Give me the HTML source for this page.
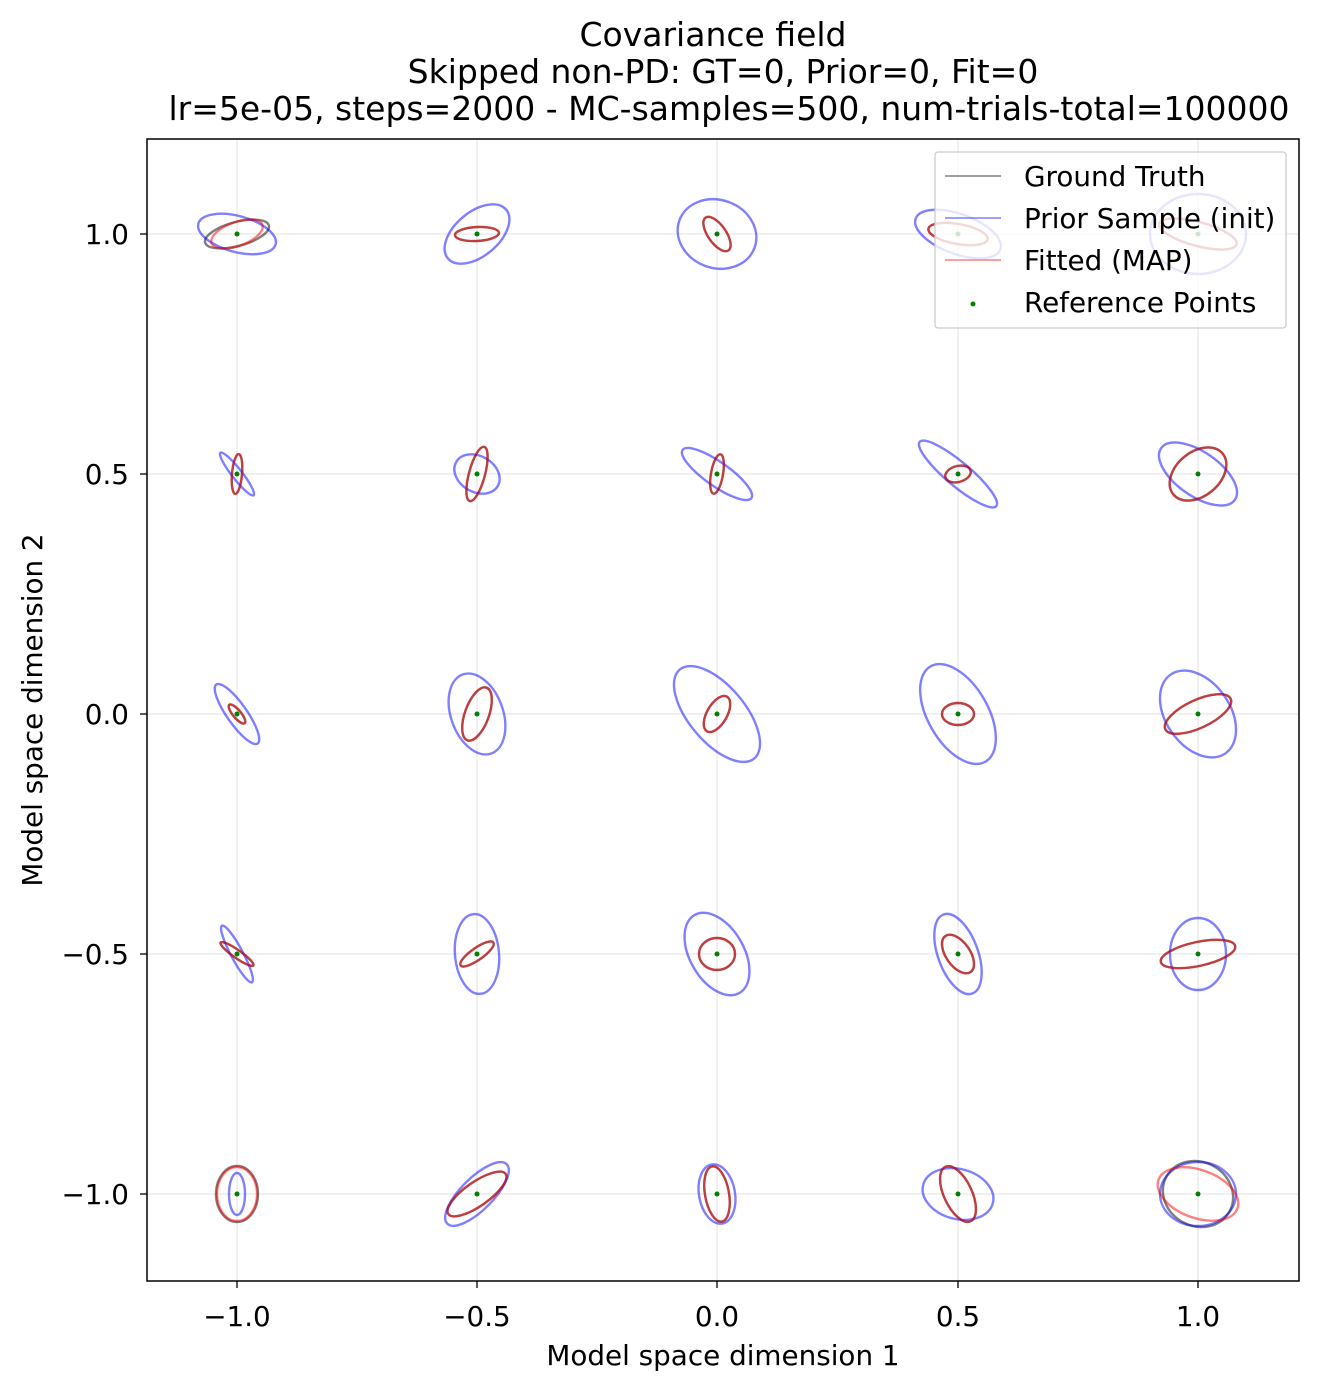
<!DOCTYPE html>
<html><head><meta charset="utf-8"><style>
html,body{margin:0;padding:0;background:#fff}
svg text{font-family:"DejaVu Sans","Liberation Sans",sans-serif;fill:#000}
</style></head><body>
<svg width="1320" height="1390" viewBox="0 0 1320 1390" xmlns="http://www.w3.org/2000/svg">
<rect width="1320" height="1390" fill="#fff"/>
<g font-size="33" text-anchor="middle">
<text x="713" y="46">Covariance field</text>
<text x="723" y="83">Skipped non-PD: GT=0, Prior=0, Fit=0</text>
<text x="729" y="120">lr=5e-05, steps=2000 - MC-samples=500, num-trials-total=100000</text>
</g>
<g stroke="#e6e6e6" stroke-width="1.2">
<line x1="237" y1="139" x2="237" y2="1281"/><line x1="477" y1="139" x2="477" y2="1281"/><line x1="717" y1="139" x2="717" y2="1281"/><line x1="958" y1="139" x2="958" y2="1281"/><line x1="1198" y1="139" x2="1198" y2="1281"/>
<line x1="147" y1="234" x2="1299" y2="234"/><line x1="147" y1="474" x2="1299" y2="474"/><line x1="147" y1="714" x2="1299" y2="714"/><line x1="147" y1="954" x2="1299" y2="954"/><line x1="147" y1="1194" x2="1299" y2="1194"/>
</g>
<g fill="none" stroke-width="2.4">
<g transform="translate(237,234)"><ellipse rx="33" ry="12" transform="rotate(-15)" stroke="#000" stroke-opacity=".5"/><ellipse rx="40" ry="18" transform="rotate(15)" stroke="#00f" stroke-opacity=".5"/><ellipse rx="27" ry="12" transform="rotate(-20)" stroke="#f00" stroke-opacity=".5"/></g>
<g transform="translate(477,234)"><ellipse rx="22" ry="7" transform="rotate(-3)" stroke="#000" stroke-opacity=".5"/><ellipse rx="38" ry="22" transform="rotate(-40)" stroke="#00f" stroke-opacity=".5"/><ellipse rx="22" ry="7" transform="rotate(-3)" stroke="#f00" stroke-opacity=".5"/></g>
<g transform="translate(717,234)"><ellipse rx="20" ry="9" transform="rotate(55)" stroke="#000" stroke-opacity=".5"/><ellipse rx="40" ry="34" transform="rotate(20)" stroke="#00f" stroke-opacity=".5"/><ellipse rx="20" ry="9" transform="rotate(55)" stroke="#f00" stroke-opacity=".5"/></g>
<g transform="translate(958,234)"><ellipse rx="30" ry="10" transform="rotate(10)" stroke="#000" stroke-opacity=".5"/><ellipse rx="45" ry="20" transform="rotate(20)" stroke="#00f" stroke-opacity=".5"/><ellipse rx="30" ry="10" transform="rotate(10)" stroke="#f00" stroke-opacity=".5"/></g>
<g transform="translate(1198,234)"><ellipse rx="40" ry="12" transform="rotate(15)" stroke="#000" stroke-opacity=".5"/><ellipse rx="48" ry="40" stroke="#00f" stroke-opacity=".5"/><ellipse rx="40" ry="12" transform="rotate(15)" stroke="#f00" stroke-opacity=".5"/></g>
<g transform="translate(237,474)"><ellipse rx="20" ry="5" transform="rotate(95)" stroke="#000" stroke-opacity=".5"/><ellipse rx="27" ry="5" transform="rotate(52)" stroke="#00f" stroke-opacity=".5"/><ellipse rx="20" ry="5" transform="rotate(95)" stroke="#f00" stroke-opacity=".5"/></g>
<g transform="translate(477,474)"><ellipse rx="28" ry="8" transform="rotate(-75)" stroke="#000" stroke-opacity=".5"/><ellipse rx="24" ry="18" transform="rotate(30)" stroke="#00f" stroke-opacity=".5"/><ellipse rx="28" ry="8" transform="rotate(-75)" stroke="#f00" stroke-opacity=".5"/></g>
<g transform="translate(717,474)"><ellipse rx="20" ry="6" transform="rotate(-80)" stroke="#000" stroke-opacity=".5"/><ellipse rx="42" ry="12" transform="rotate(35)" stroke="#00f" stroke-opacity=".5"/><ellipse rx="20" ry="6" transform="rotate(-80)" stroke="#f00" stroke-opacity=".5"/></g>
<g transform="translate(958,474)"><ellipse rx="13" ry="8" transform="rotate(-15)" stroke="#000" stroke-opacity=".5"/><ellipse rx="50" ry="12" transform="rotate(40)" stroke="#00f" stroke-opacity=".5"/><ellipse rx="13" ry="8" transform="rotate(-15)" stroke="#f00" stroke-opacity=".5"/></g>
<g transform="translate(1198,474)"><ellipse rx="32" ry="22" transform="rotate(-40)" stroke="#000" stroke-opacity=".5"/><ellipse rx="45" ry="22" transform="rotate(35)" stroke="#00f" stroke-opacity=".5"/><ellipse rx="32" ry="22" transform="rotate(-40)" stroke="#f00" stroke-opacity=".5"/></g>
<g transform="translate(237,714)"><ellipse rx="12" ry="4" transform="rotate(50)" stroke="#000" stroke-opacity=".5"/><ellipse rx="36" ry="10" transform="rotate(55)" stroke="#00f" stroke-opacity=".5"/><ellipse rx="12" ry="4" transform="rotate(50)" stroke="#f00" stroke-opacity=".5"/></g>
<g transform="translate(477,714)"><ellipse rx="28" ry="12" transform="rotate(-70)" stroke="#000" stroke-opacity=".5"/><ellipse rx="42" ry="26" transform="rotate(70)" stroke="#00f" stroke-opacity=".5"/><ellipse rx="28" ry="12" transform="rotate(-70)" stroke="#f00" stroke-opacity=".5"/></g>
<g transform="translate(717,714)"><ellipse rx="20" ry="10" transform="rotate(-60)" stroke="#000" stroke-opacity=".5"/><ellipse rx="58" ry="28" transform="rotate(50)" stroke="#00f" stroke-opacity=".5"/><ellipse rx="20" ry="10" transform="rotate(-60)" stroke="#f00" stroke-opacity=".5"/></g>
<g transform="translate(958,714)"><ellipse rx="16" ry="11" stroke="#000" stroke-opacity=".5"/><ellipse rx="55" ry="30" transform="rotate(60)" stroke="#00f" stroke-opacity=".5"/><ellipse rx="16" ry="11" stroke="#f00" stroke-opacity=".5"/></g>
<g transform="translate(1198,714)"><ellipse rx="36" ry="14" transform="rotate(-25)" stroke="#000" stroke-opacity=".5"/><ellipse rx="48" ry="32" transform="rotate(55)" stroke="#00f" stroke-opacity=".5"/><ellipse rx="36" ry="14" transform="rotate(-25)" stroke="#f00" stroke-opacity=".5"/></g>
<g transform="translate(237,954)"><ellipse rx="20" ry="4" transform="rotate(35)" stroke="#000" stroke-opacity=".5"/><ellipse rx="32" ry="6" transform="rotate(62)" stroke="#00f" stroke-opacity=".5"/><ellipse rx="20" ry="4" transform="rotate(35)" stroke="#f00" stroke-opacity=".5"/></g>
<g transform="translate(477,954)"><ellipse rx="20" ry="6" transform="rotate(-35)" stroke="#000" stroke-opacity=".5"/><ellipse rx="40" ry="22" transform="rotate(85)" stroke="#00f" stroke-opacity=".5"/><ellipse rx="20" ry="6" transform="rotate(-35)" stroke="#f00" stroke-opacity=".5"/></g>
<g transform="translate(717,954)"><ellipse rx="18" ry="16" stroke="#000" stroke-opacity=".5"/><ellipse rx="45" ry="27" transform="rotate(60)" stroke="#00f" stroke-opacity=".5"/><ellipse rx="18" ry="16" stroke="#f00" stroke-opacity=".5"/></g>
<g transform="translate(958,954)"><ellipse rx="22" ry="12" transform="rotate(55)" stroke="#000" stroke-opacity=".5"/><ellipse rx="42" ry="20" transform="rotate(70)" stroke="#00f" stroke-opacity=".5"/><ellipse rx="22" ry="12" transform="rotate(55)" stroke="#f00" stroke-opacity=".5"/></g>
<g transform="translate(1198,954)"><ellipse rx="38" ry="12" transform="rotate(-12)" stroke="#000" stroke-opacity=".5"/><ellipse rx="36" ry="28" transform="rotate(90)" stroke="#00f" stroke-opacity=".5"/><ellipse rx="38" ry="12" transform="rotate(-12)" stroke="#f00" stroke-opacity=".5"/></g>
<g transform="translate(237,1194)"><ellipse rx="21" ry="28" stroke="#000" stroke-opacity=".5"/><ellipse rx="8" ry="21" stroke="#00f" stroke-opacity=".5"/><ellipse rx="20" ry="27" stroke="#f00" stroke-opacity=".5"/></g>
<g transform="translate(477,1194)"><ellipse rx="35" ry="12" transform="rotate(-35)" stroke="#000" stroke-opacity=".5"/><ellipse rx="42" ry="16" transform="rotate(-45)" stroke="#00f" stroke-opacity=".5"/><ellipse rx="35" ry="12" transform="rotate(-35)" stroke="#f00" stroke-opacity=".5"/></g>
<g transform="translate(717,1194)"><ellipse rx="28" ry="12" transform="rotate(80)" stroke="#000" stroke-opacity=".5"/><ellipse rx="30" ry="18" transform="rotate(80)" stroke="#00f" stroke-opacity=".5"/><ellipse rx="28" ry="12" transform="rotate(80)" stroke="#f00" stroke-opacity=".5"/></g>
<g transform="translate(958,1194)"><ellipse rx="30" ry="14" transform="rotate(65)" stroke="#000" stroke-opacity=".5"/><ellipse rx="36" ry="25" transform="rotate(15)" stroke="#00f" stroke-opacity=".5"/><ellipse rx="30" ry="14" transform="rotate(65)" stroke="#f00" stroke-opacity=".5"/></g>
<g transform="translate(1198,1194)"><ellipse rx="36" ry="32" transform="rotate(30)" stroke="#000" stroke-opacity=".5"/><ellipse rx="38" ry="32" stroke="#00f" stroke-opacity=".5"/><ellipse rx="42" ry="24" transform="rotate(20)" stroke="#f00" stroke-opacity=".5"/></g>
</g>
<g fill="#008000">
<circle cx="237" cy="234" r="2.5"/><circle cx="477" cy="234" r="2.5"/><circle cx="717" cy="234" r="2.5"/><circle cx="958" cy="234" r="2.5"/><circle cx="1198" cy="234" r="2.5"/>
<circle cx="237" cy="474" r="2.5"/><circle cx="477" cy="474" r="2.5"/><circle cx="717" cy="474" r="2.5"/><circle cx="958" cy="474" r="2.5"/><circle cx="1198" cy="474" r="2.5"/>
<circle cx="237" cy="714" r="2.5"/><circle cx="477" cy="714" r="2.5"/><circle cx="717" cy="714" r="2.5"/><circle cx="958" cy="714" r="2.5"/><circle cx="1198" cy="714" r="2.5"/>
<circle cx="237" cy="954" r="2.5"/><circle cx="477" cy="954" r="2.5"/><circle cx="717" cy="954" r="2.5"/><circle cx="958" cy="954" r="2.5"/><circle cx="1198" cy="954" r="2.5"/>
<circle cx="237" cy="1194" r="2.5"/><circle cx="477" cy="1194" r="2.5"/><circle cx="717" cy="1194" r="2.5"/><circle cx="958" cy="1194" r="2.5"/><circle cx="1198" cy="1194" r="2.5"/>
</g>
<rect x="147" y="139" width="1152" height="1142" fill="none" stroke="#000" stroke-width="1.5"/>
<g stroke="#000" stroke-width="1.3">
<line x1="237" y1="1281" x2="237" y2="1288"/><line x1="477" y1="1281" x2="477" y2="1288"/><line x1="717" y1="1281" x2="717" y2="1288"/><line x1="958" y1="1281" x2="958" y2="1288"/><line x1="1198" y1="1281" x2="1198" y2="1288"/>
<line x1="140" y1="234" x2="147" y2="234"/><line x1="140" y1="474" x2="147" y2="474"/><line x1="140" y1="714" x2="147" y2="714"/><line x1="140" y1="954" x2="147" y2="954"/><line x1="140" y1="1194" x2="147" y2="1194"/>
</g>
<g font-size="27.8" text-anchor="middle">
<text x="237" y="1326">−1.0</text><text x="477" y="1326">−0.5</text><text x="717" y="1326">0.0</text><text x="958" y="1326">0.5</text><text x="1198" y="1326">1.0</text>
</g>
<g font-size="27.8" text-anchor="end">
<text x="129" y="244">1.0</text><text x="129" y="484">0.5</text><text x="129" y="724">0.0</text><text x="129" y="964">−0.5</text><text x="129" y="1204">−1.0</text>
</g>
<text x="723" y="1365" font-size="27.8" text-anchor="middle">Model space dimension 1</text>
<text transform="translate(42,710) rotate(-90)" font-size="27.8" text-anchor="middle">Model space dimension 2</text>
<rect x="935" y="152" width="351" height="176" rx="3" fill="#fff" fill-opacity=".8" stroke="#ccc" stroke-width="1.3"/>
<line x1="945" y1="176" x2="1001" y2="176" stroke="#000" stroke-opacity=".5" stroke-width="1.5"/>
<line x1="945" y1="218" x2="1001" y2="218" stroke="#00f" stroke-opacity=".5" stroke-width="1.5"/>
<line x1="945" y1="260" x2="1001" y2="260" stroke="#f00" stroke-opacity=".5" stroke-width="1.5"/>
<circle cx="973" cy="304" r="2.5" fill="#008000"/>
<g font-size="27.8">
<text x="1024" y="186">Ground Truth</text><text x="1024" y="228">Prior Sample (init)</text><text x="1024" y="270">Fitted (MAP)</text><text x="1024" y="312">Reference Points</text>
</g>
</svg>
</body></html>
